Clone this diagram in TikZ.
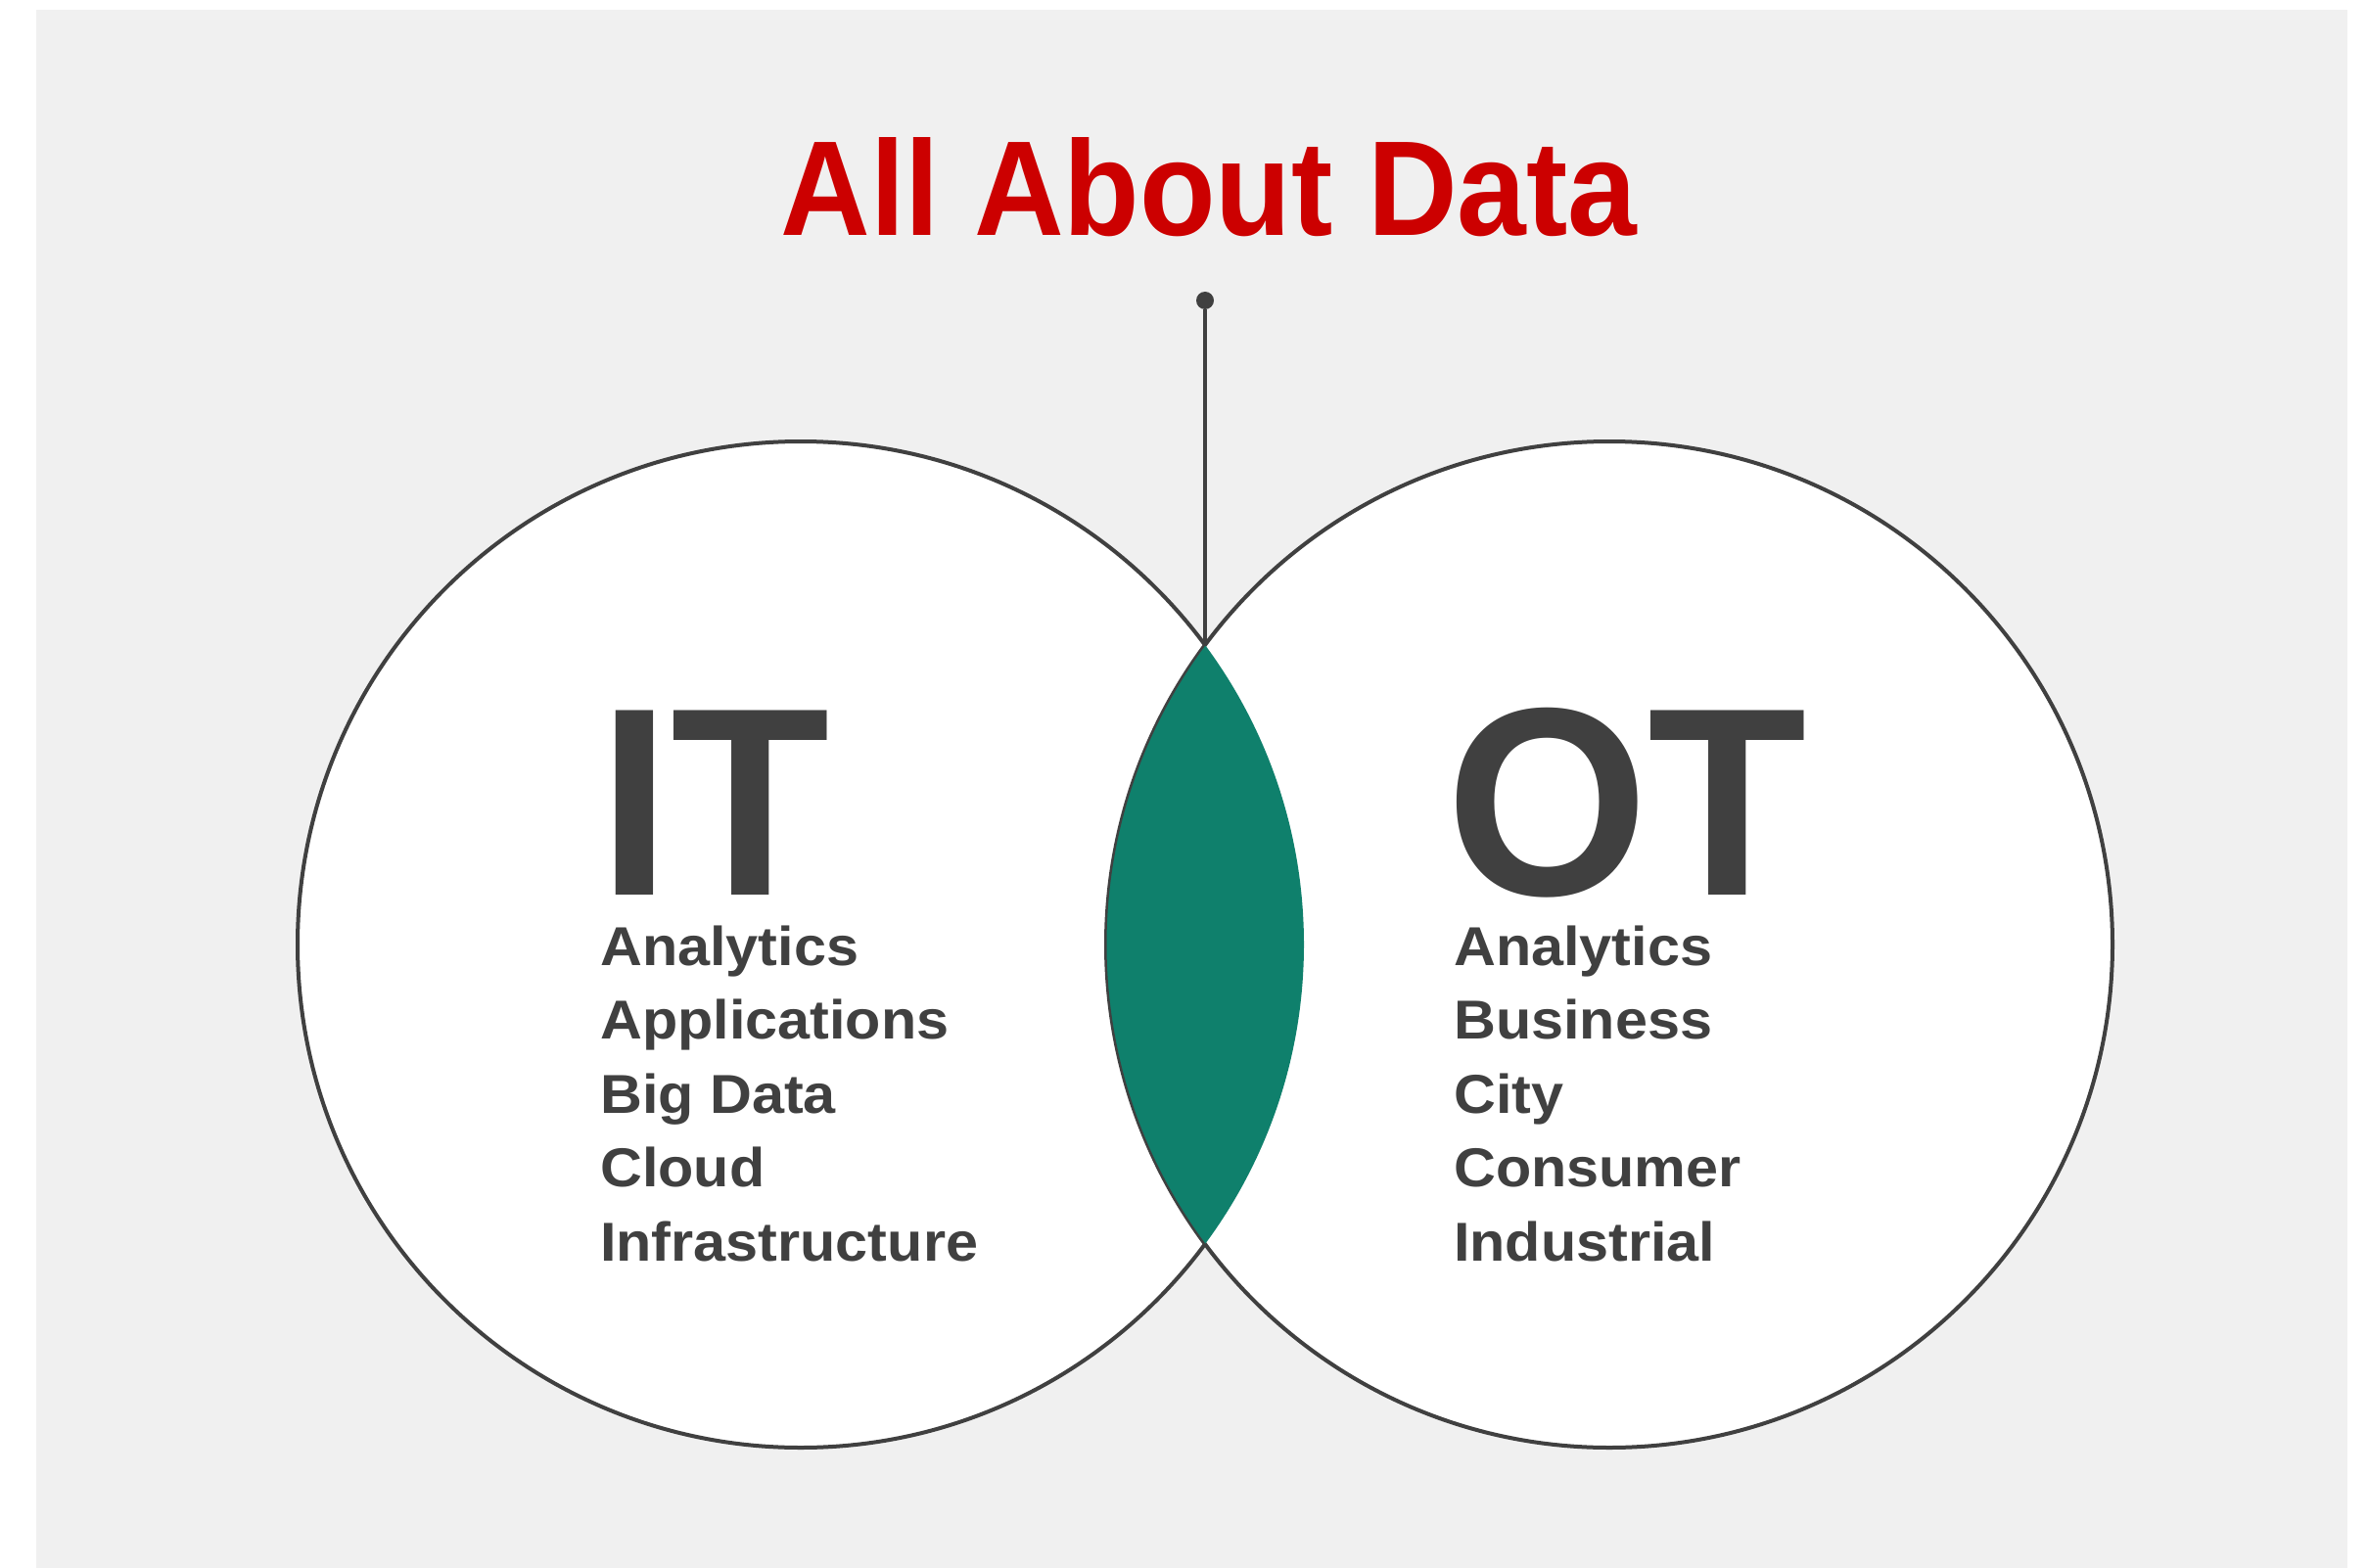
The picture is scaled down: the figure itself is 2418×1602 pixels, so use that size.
\documentclass[tikz,border=0pt]{standalone}
\usepackage{fontspec}
\setmainfont{Liberation Sans}
\newfontfamily\titlefont[FakeStretch=0.92]{Liberation Sans}
\newfontfamily\bigfont[FakeStretch=0.97]{Liberation Sans}
\newfontfamily\listfont[FakeStretch=1.06]{Liberation Sans}
\usetikzlibrary{positioning}

\definecolor{titlered}{HTML}{CC0000}
\definecolor{inkgray}{HTML}{404040}
\definecolor{lensgreen}{HTML}{0F806C}
\definecolor{bggray}{HTML}{F0F0F0}

\tikzset{
    venn/.style={circle, draw=inkgray, fill=white, line width=4pt, minimum size=1028pt, inner sep=0pt},
    bigword/.style={anchor=base west, inner sep=0pt, text=inkgray, font=\bigfont\bfseries\fontsize{274}{274}\selectfont},
    item/.style={anchor=base west, inner sep=0pt, text=inkgray, font=\listfont\bfseries\fontsize{56}{56}\selectfont},
}

\begin{document}
\begin{tikzpicture}[x=1pt, y=-1pt]
    \useasboundingbox (0,0) rectangle (2418,1602);
    \fill[bggray] (37,10) rectangle (2398,1602);

    \node[anchor=base, inner sep=0pt, text=titlered, font=\titlefont\bfseries\fontsize{138}{138}\selectfont] (title) at (1235,241) {All About Data};

    % the two sets
    \node[venn] (IT_c) at (818,965) {};
    \node[venn] (OT_c) at (1644,965) {};

    % overlap
    \begin{scope}
        \clip (IT_c.center) circle [radius=514pt];
        \fill[lensgreen, draw=inkgray, line width=1pt] (OT_c.center) circle [radius=514pt];
    \end{scope}

    \coordinate (meet) at (1231,660);
    \node[circle, fill=inkgray, minimum size=18pt, inner sep=0pt] (pin) at (1231,307) {};
    \draw[inkgray, line width=3.5pt] (pin) -- (meet);

    \node[bigword] (IT) at (611,914) {IT};
    \node[item] (IT_d1) at (613,986) {Analytics};
    \node[item] (IT_d2) at (613,1061) {Applications};
    \node[item] (IT_d3) at (613,1137) {Big Data};
    \node[item] (IT_d4) at (613,1212) {Cloud};
    \node[item] (IT_d5) at (613,1288) {Infrastructure};

    \node[bigword] (OT) at (1477,914) {OT};
    \node[item] (OT_d1) at (1485,986) {Analytics};
    \node[item] (OT_d2) at (1485,1061) {Business};
    \node[item] (OT_d3) at (1485,1137) {City};
    \node[item] (OT_d4) at (1485,1212) {Consumer};
    \node[item] (OT_d5) at (1485,1288) {Industrial};

\end{tikzpicture}
\end{document}
